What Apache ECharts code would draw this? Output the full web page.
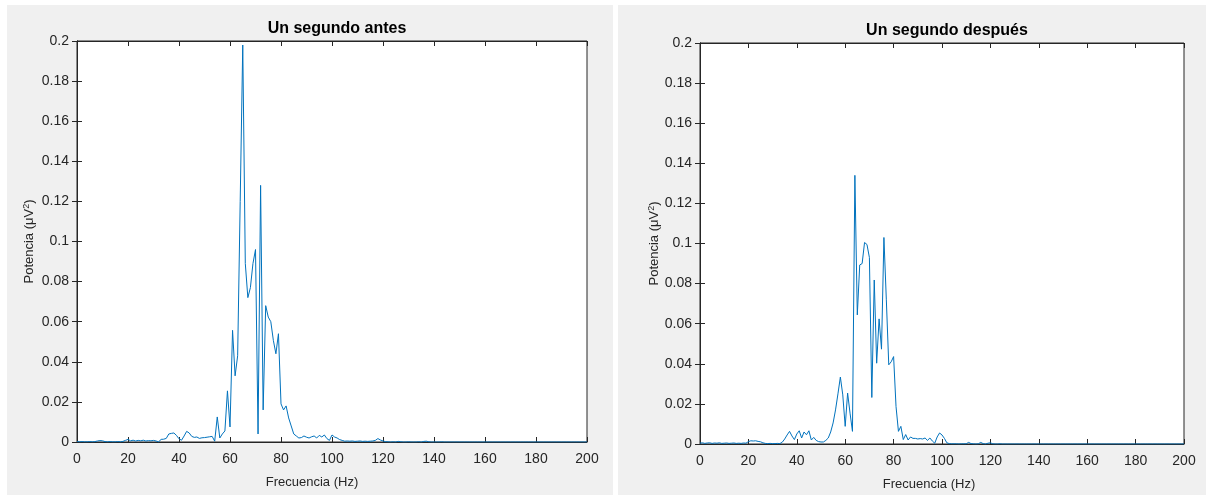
<!DOCTYPE html>
<html>
	<head>
		<meta charset="utf-8" />
		<title></title>
		<script src="https://cdn.jsdelivr.net/npm/echarts@6/dist/echarts.min.js" type="text/javascript" charset="utf-8"></script>
	</head>
	<body style="margin: 0;background: #fff;">
		<div id="chart" style="width: 1206px;height: 496px;"></div>
		<script type="text/javascript">
			// potencia por frecuencia, 1 Hz por punto (0..200 Hz)
			var antes = [
				0.0002, 0.0001, 0.0002, 0.0001, 0.0001, 0.0002, 0.0001, 0.0002, 0.0005, 0.0007,
				0.0006, 0.0002, 0.0001, 0.0002, 0.0001, 0.0001, 0.0002, 0.0001, 0.0003, 0.0008,
				0.0013, 0.0006, 0.0009, 0.0005, 0.0008, 0.0006, 0.0009, 0.0005, 0.0007, 0.0006,
				0.0008, 0.0005, 0.0001, 0.0013, 0.0014, 0.0018, 0.0040, 0.0043, 0.0045, 0.0033,
				0.0016, 0.0009, 0.0030, 0.0053, 0.0045, 0.0028, 0.0023, 0.0025, 0.0018, 0.0021,
				0.0022, 0.0024, 0.0026, 0.0028, 0.0004, 0.0125, 0.0020, 0.0040, 0.0055, 0.0255,
				0.0075, 0.0557, 0.0330, 0.0430, 0.1200, 0.1980, 0.0890, 0.0720, 0.0770, 0.0890,
				0.0960, 0.0040, 0.1280, 0.0160, 0.0680, 0.0623, 0.0600, 0.0507, 0.0440, 0.0540,
				0.0190, 0.0160, 0.0180, 0.0120, 0.0080, 0.0040, 0.0030, 0.0020, 0.0022, 0.0030,
				0.0024, 0.0020, 0.0026, 0.0030, 0.0020, 0.0033, 0.0025, 0.0035, 0.0017, 0.0008,
				0.0035, 0.0025, 0.0020, 0.0012, 0.0008, 0.0004, 0.0005, 0.0004, 0.0005, 0.0003,
				0.0004, 0.0005, 0.0003, 0.0004, 0.0003, 0.0004, 0.0005, 0.0008, 0.0017, 0.0010,
				0.0005, 0.0002, 0.0001, 0.0000, 0.0001, 0.0000, 0.0003, 0.0001, 0.0000, 0.0000,
				0.0001, 0.0000, 0.0000, 0.0000, 0.0001, 0.0000, 0.0003, 0.0004, 0.0001, 0.0000,
				0.0000, 0.0000, 0.0000, 0.0001, 0.0000, 0.0000, 0.0000, 0.0000, 0.0000, 0.0000,
				0.0000, 0.0000, 0.0000, 0.0000, 0.0000, 0.0000, 0.0000, 0.0000, 0.0000, 0.0000,
				0.0000, 0.0000, 0.0000, 0.0000, 0.0000, 0.0000, 0.0000, 0.0000, 0.0000, 0.0000,
				0.0000, 0.0000, 0.0000, 0.0000, 0.0000, 0.0000, 0.0000, 0.0000, 0.0000, 0.0000,
				0.0000, 0.0000, 0.0000, 0.0000, 0.0000, 0.0000, 0.0000, 0.0000, 0.0000, 0.0000,
				0.0000, 0.0000, 0.0000, 0.0000, 0.0000, 0.0000, 0.0000, 0.0000, 0.0000, 0.0000,
				0.0000
			];
			var despues = [
				0.0004, 0.0006, 0.0003, 0.0005, 0.0006, 0.0003, 0.0005, 0.0004, 0.0006, 0.0003,
				0.0004, 0.0005, 0.0003, 0.0004, 0.0005, 0.0003, 0.0004, 0.0003, 0.0005, 0.0004,
				0.0012, 0.0016, 0.0015, 0.0016, 0.0013, 0.0011, 0.0006, 0.0003, 0.0002, 0.0003,
				0.0002, 0.0002, 0.0003, 0.0002, 0.0009, 0.0025, 0.0045, 0.0063, 0.0040, 0.0022,
				0.0050, 0.0066, 0.0030, 0.0060, 0.0046, 0.0066, 0.0020, 0.0033, 0.0018, 0.0012,
				0.0010, 0.0010, 0.0018, 0.0030, 0.0060, 0.0105, 0.0170, 0.0250, 0.0334, 0.0245,
				0.0088, 0.0254, 0.0154, 0.0063, 0.1340, 0.0644, 0.0893, 0.0900, 0.1005, 0.0995,
				0.0930, 0.0232, 0.0818, 0.0403, 0.0624, 0.0473, 0.1030, 0.0719, 0.0395, 0.0410,
				0.0436, 0.0187, 0.0063, 0.0088, 0.0022, 0.0047, 0.0020, 0.0035, 0.0028, 0.0028,
				0.0025, 0.0027, 0.0025, 0.0030, 0.0018, 0.0030, 0.0015, 0.0004, 0.0035, 0.0055,
				0.0045, 0.0028, 0.0006, 0.0002, 0.0001, 0.0001, 0.0001, 0.0000, 0.0001, 0.0001,
				0.0001, 0.0008, 0.0002, 0.0001, 0.0000, 0.0001, 0.0008, 0.0002, 0.0000, 0.0004,
				0.0006, 0.0001, 0.0000, 0.0000, 0.0001, 0.0000, 0.0000, 0.0000, 0.0000, 0.0000,
				0.0000, 0.0000, 0.0000, 0.0000, 0.0000, 0.0000, 0.0000, 0.0000, 0.0000, 0.0000,
				0.0000, 0.0000, 0.0000, 0.0000, 0.0000, 0.0000, 0.0000, 0.0000, 0.0000, 0.0000,
				0.0000, 0.0000, 0.0000, 0.0000, 0.0000, 0.0000, 0.0000, 0.0000, 0.0000, 0.0000,
				0.0000, 0.0000, 0.0000, 0.0000, 0.0000, 0.0000, 0.0000, 0.0000, 0.0000, 0.0000,
				0.0000, 0.0000, 0.0000, 0.0000, 0.0000, 0.0000, 0.0000, 0.0000, 0.0000, 0.0000,
				0.0000, 0.0000, 0.0000, 0.0000, 0.0000, 0.0000, 0.0000, 0.0000, 0.0000, 0.0000,
				0.0000, 0.0000, 0.0000, 0.0000, 0.0000, 0.0000, 0.0000, 0.0000, 0.0000, 0.0000,
				0.0000
			];
			var titulos = ['Un segundo antes', 'Un segundo después'];
			var xTitulo = 'Frecuencia (Hz)';

			function pares(vals){
				var out = [];
				for ( var i = 0 ; i < vals.length ; i ++ ){
					out.push([i, vals[i]]);
				}
				return out;
			}

			var font = 'Liberation Sans, Arial, Helvetica, sans-serif';
			var ink = '#262626';
			var grids = [
				{left: 77, top: 41, width: 510, height: 401},
				{left: 700, top: 43, width: 484, height: 401}
			];

			var xAxes = [], yAxes = [];
			for ( var g = 0 ; g < 2 ; g ++ ){
				grids[g].show = true;
				grids[g].backgroundColor = '#ffffff';
				grids[g].borderColor = ink;
				grids[g].borderWidth = 1;
				// ejes principales
				xAxes.push({
					type: 'value', gridIndex: g, min: 0, max: 200, interval: 20,
					axisLine: {onZero: false, lineStyle: {color: ink}},
					axisTick: {inside: true, length: 5, lineStyle: {color: ink}},
					axisLabel: {color: ink, fontSize: 14, fontFamily: font, margin: 10},
					splitLine: {show: false}
				});
				yAxes.push({
					type: 'value', gridIndex: g, min: 0, max: 0.2, interval: 0.02,
					name: 'Potencia (μV{sup|2})',
					nameLocation: 'middle', nameRotate: 90, nameGap: g == 0 ? 40 : 38,
					nameTextStyle: {color: ink, fontSize: 13, fontFamily: font,
						rich: {sup: {fontSize: 9, verticalAlign: 'top', color: ink, fontFamily: font, padding: [0, 0, 6, 0]}}},
					axisLine: {lineStyle: {color: ink}},
					axisTick: {inside: true, length: 5, lineStyle: {color: ink}},
					axisLabel: {color: ink, fontSize: 14, fontFamily: font, margin: 8},
					splitLine: {show: false}
				});
			}
			// ticks del borde superior y derecho (caja)
			for ( var g = 0 ; g < 2 ; g ++ ){
				xAxes.push({
					type: 'value', gridIndex: g, position: 'top', min: 0, max: 200, interval: 20,
					axisLine: {onZero: false, lineStyle: {color: ink}},
					axisTick: {inside: true, length: 5, lineStyle: {color: ink}},
					axisLabel: {show: false}, splitLine: {show: false}
				});
				yAxes.push({
					type: 'value', gridIndex: g, position: 'right', min: 0, max: 0.2, interval: 0.02,
					axisLine: {show: true, lineStyle: {color: ink}},
					axisTick: {inside: true, length: 5, lineStyle: {color: ink}},
					axisLabel: {show: false}, splitLine: {show: false}
				});
			}

			var chart = echarts.init(document.getElementById('chart'));
			chart.setOption({
				animation: false,
				backgroundColor: '#ffffff',
				graphic: [
					{type: 'rect', shape: {x: 7, y: 5, width: 606, height: 490}, style: {fill: '#f0f0f0'}, z: -10},
					{type: 'rect', shape: {x: 618, y: 5, width: 588, height: 490}, style: {fill: '#f0f0f0'}, z: -10}
				],
				title: [
					{text: titulos[0], left: 332, top: 16, textAlign: 'center',
						textStyle: {fontSize: 16, fontWeight: 'bold', color: '#000', fontFamily: font}},
					{text: titulos[1], left: 942, top: 18, textAlign: 'center',
						textStyle: {fontSize: 16, fontWeight: 'bold', color: '#000', fontFamily: font}},
					{text: xTitulo, left: 307, top: 471, textAlign: 'center',
						textStyle: {fontSize: 13, fontWeight: 'normal', color: ink, fontFamily: font}},
					{text: xTitulo, left: 924, top: 473, textAlign: 'center',
						textStyle: {fontSize: 13, fontWeight: 'normal', color: ink, fontFamily: font}}
				],
				grid: grids,
				xAxis: xAxes,
				yAxis: yAxes,
				series: [
					{type: 'line', xAxisIndex: 0, yAxisIndex: 0, data: pares(antes),
						showSymbol: false, lineStyle: {color: '#0072BD', width: 1}, itemStyle: {color: '#0072BD'}},
					{type: 'line', xAxisIndex: 1, yAxisIndex: 1, data: pares(despues),
						showSymbol: false, lineStyle: {color: '#0072BD', width: 1}, itemStyle: {color: '#0072BD'}}
				]
			});
		</script>
	</body>
</html>
